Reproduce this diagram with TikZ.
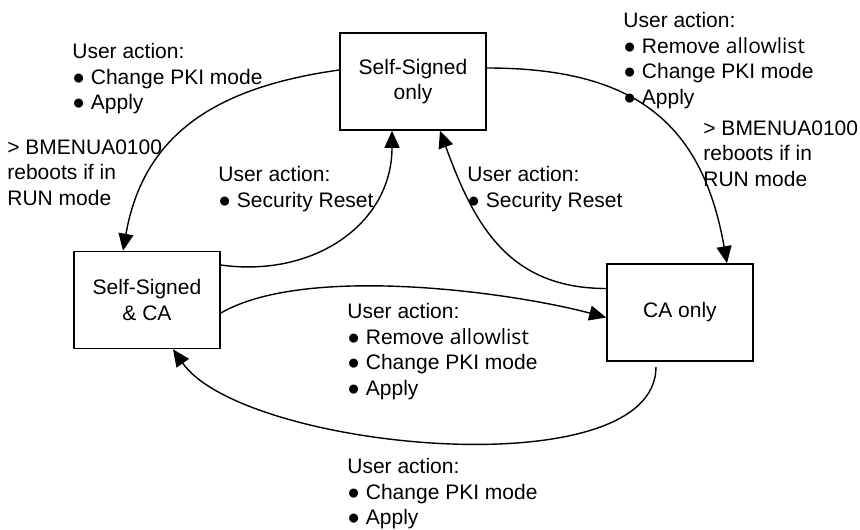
\documentclass[tikz,border=0pt]{standalone}
\usepackage{fontspec}
\setmainfont{Liberation Sans}
\newfontfamily\segoe{Open Sans}
\usetikzlibrary{arrows.meta}

\begin{document}
\begin{tikzpicture}[
    x=0.5pt, y=-0.5pt,
    font=\fontsize{10.5}{12.75}\selectfont,
    state/.style={draw, line width=0.8pt, align=center, minimum width=73pt, minimum height=48.5pt, inner sep=0pt},
    note/.style={anchor=north west, align=left, inner sep=0pt},
    ar/.style={-{Triangle[length=8.5pt,width=7.5pt]}, line width=0.7pt},
  ]
    \useasboundingbox (0,0) rectangle (860,529);

    % PKI states
    \node[state] (ss) at (413,81.5) {Self-Signed\\only};
    \node[state] (sc) at (147,300) {Self-Signed\\\& CA};
    \node[state] (ca) at (680,312.5) {CA only};

    % transitions
    \draw[ar] ([yshift=5.75pt]ss.west) to[out=188, in=80, looseness=1.1] ([xshift=-12pt]sc.north);
    \draw[ar] ([yshift=17.5pt]sc.east) to[out=-8, in=-90, looseness=1.1] ([xshift=-10.5pt]ss.south);
    \draw[ar] ([yshift=12pt]ca.west) to[out=180, in=-70, looseness=1.1] ([xshift=13.5pt]ss.south);
    \draw[ar] ([yshift=6.75pt]ss.east) to[out=0, in=100, looseness=1.2] ([xshift=23.5pt]ca.north);
    \draw[ar] ([yshift=-6.5pt]sc.east) to[out=30, in=165, looseness=0.65] ([yshift=-2.5pt]ca.west);
    \draw[ar] ([xshift=-12pt,yshift=-2.5pt]ca.south) to[out=-90, in=-55, looseness=0.65] ([xshift=13pt]sc.south);

    % user actions
    \node[note] (ssToSc) at (72,43) {User action:\\● Change PKI mode\\● Apply};
    \node[note] (ssToScBoot) at (7,139) {> BMENUA0100\\reboots if in\\RUN mode};
    \node[note] (scToSs) at (218,166) {User action:\\● Security Reset};
    \node[note] (ssToCa) at (623,12) {User action:\\● Remove {\segoe allowlist}\\● Change PKI mode\\● Apply};
    \node[note] (ssToCaBoot) at (703,120) {> BMENUA0100\\reboots if in\\RUN mode};
    \node[note] (caToSs) at (467,166) {User action:\\● Security Reset};
    \node[note] (scToCa) at (347,303) {User action:\\● Remove {\segoe allowlist}\\● Change PKI mode\\● Apply};
    \node[note] (caToSc) at (347,458) {User action:\\● Change PKI mode\\● Apply};
  \end{tikzpicture}
\end{document}
